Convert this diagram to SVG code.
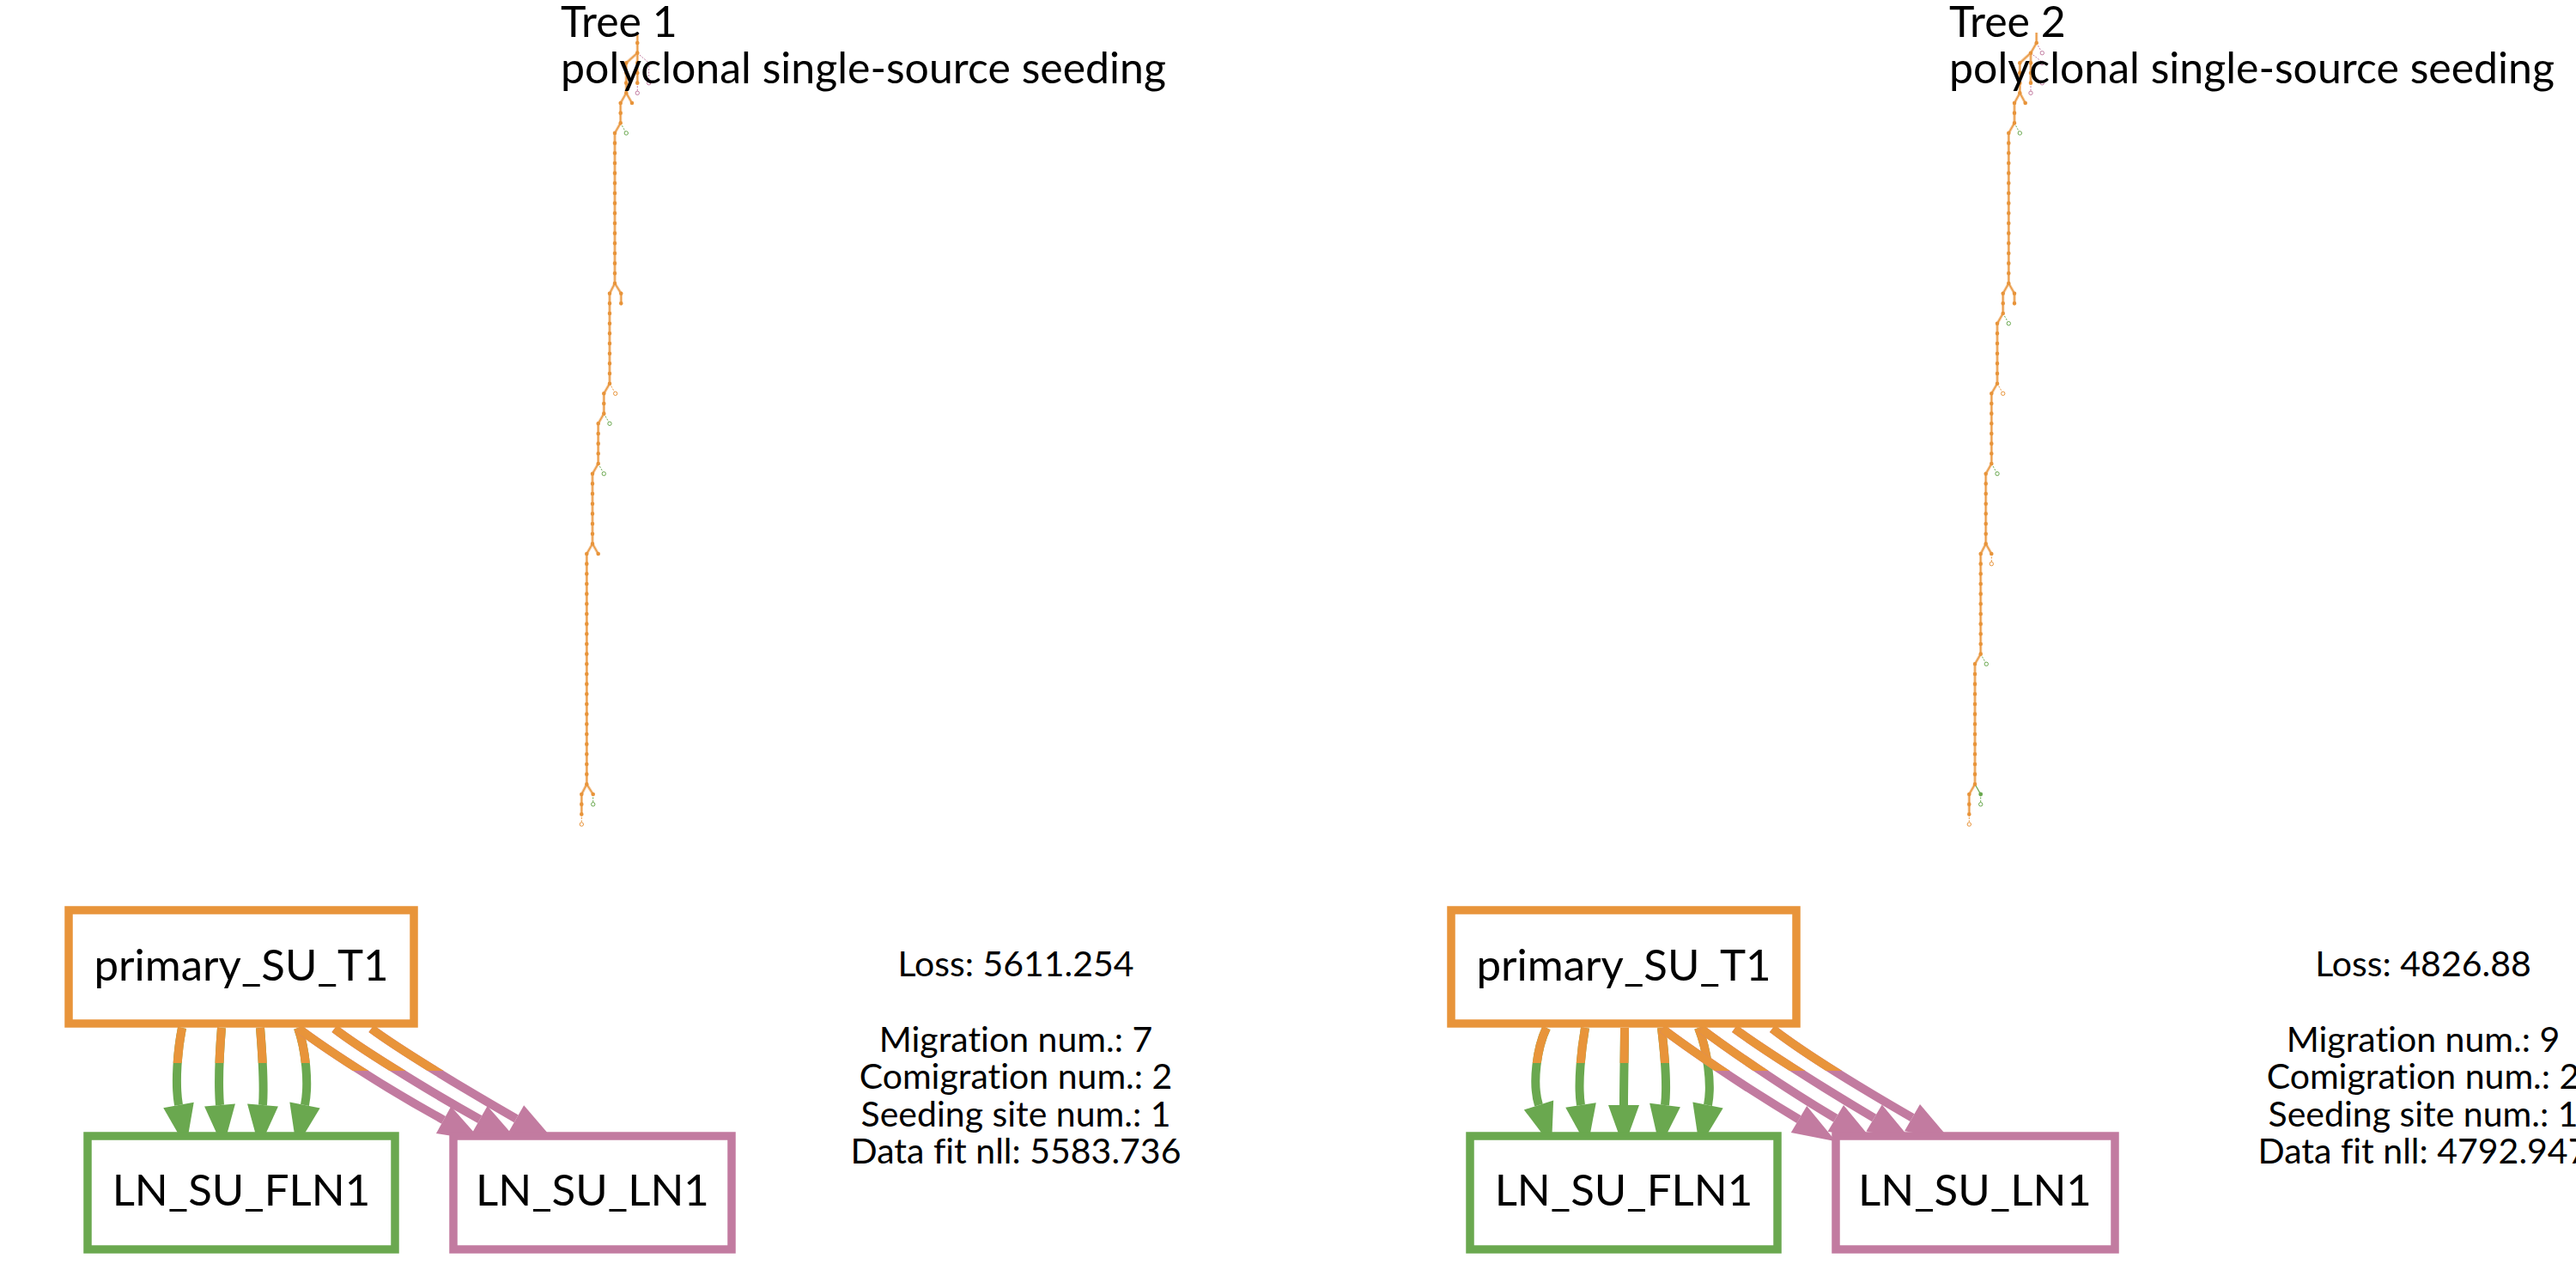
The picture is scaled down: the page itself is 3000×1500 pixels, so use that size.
<svg xmlns="http://www.w3.org/2000/svg" width="3000" height="1500" viewBox="0 0 3000 1500">
<style>
text{font-family:Lato,"Liberation Sans","DejaVu Sans",sans-serif;fill:#000;font-variant-ligatures:none}
.title{font-size:50px}
.lbl{font-size:51px;text-anchor:middle}
.stat{font-size:41px;text-anchor:middle}
.box{fill:#fff;stroke-width:9.5}
.or{stroke:#e8943a}.gr{stroke:#6aa84f}.pk{stroke:#c27ba0}
.e{fill:none;stroke-width:10}
.halo{fill:none;stroke:#f3c391;stroke-width:3.2;stroke-linejoin:round}
.tl{fill:none;stroke:#e8943a;stroke-width:1.1;stroke-linejoin:round}
.dash{fill:none;stroke-width:1;stroke-dasharray:2 1.5}
.dots{fill:none;stroke:#e8943a;stroke-width:4.6;stroke-linecap:round;stroke-dasharray:0 11.6667}
.dot{fill:#e8943a}
.hol{fill:#fff;stroke-width:1}
</style>
<defs>
<marker id="ag" markerUnits="userSpaceOnUse" markerWidth="60" markerHeight="40" refX="0" refY="0" orient="auto" overflow="visible"><path d="M0,-18 L50,0 L0,18 z" fill="#6aa84f"/></marker>
<marker id="ap" markerUnits="userSpaceOnUse" markerWidth="60" markerHeight="40" refX="0" refY="0" orient="auto" overflow="visible"><path d="M0,-18 L50,0 L0,18 z" fill="#c27ba0"/></marker>
<clipPath id="cg"><rect x="0" y="1150" width="3000" height="88"/></clipPath>
<clipPath id="cp"><rect x="0" y="1150" width="3000" height="97"/></clipPath>
</defs>

<g id="tree1">
<path class="halo" d="M742.3,38 V61.7 L729.3,73.3 V108.3 L722.7,120 V143.3 L716,155 V330 L710,341.7 V446.7 L703.3,458.3 V481.7 L696.7,493.3 V540 L690,551.7 V633.3 L683.3,645 V913.3 L677.3,925 V948.3 M742.3,61.7 V96.7 M729.3,108.3 L736,120 M716,330 L723.3,341.7 V353.3 M690,633.3 L696.7,645 M683.3,913.3 L690.7,925"/>
<path class="tl" d="M742.3,38 V61.7 L729.3,73.3 V108.3 L722.7,120 V143.3 L716,155 V330 L710,341.7 V446.7 L703.3,458.3 V481.7 L696.7,493.3 V540 L690,551.7 V633.3 L683.3,645 V913.3 L677.3,925 V948.3 M742.3,61.7 V96.7 M729.3,108.3 L736,120 M716,330 L723.3,341.7 V353.3 M690,633.3 L696.7,645 M683.3,913.3 L690.7,925"/>
<path class="dash pk" d="M742.3,61.7 L755.7,73.3 V94.5 M742.3,96.7 V106"/>
<path class="dash gr" d="M722.7,143.3 L728.2,153 M703.3,481.7 L708.9,491.3 M696.7,540 L702.2,549.7 M690.7,925 V934.5"/>
<path class="dash or" d="M710,446.7 L715.6,456.3 M677.3,948.3 V957.8"/>
<path class="dots" d="M742.3,50 V61.8 M729.3,73.3 V108.4 M742.3,73.3 V96.8 M722.7,120 V143.4 M716,155 V330.1 M710,341.7 V446.8 M723.3,341.7 V353.4 M703.3,458.3 V481.8 M696.7,493.3 V540.1 M690,551.7 V633.4 M683.3,645 V913.4 M677.3,925 V948.4"/>
<circle class="dot" cx="736" cy="120" r="2.3"/>
<circle class="dot" cx="696.7" cy="645" r="2.3"/>
<circle class="dot" cx="690.7" cy="925" r="2.3"/>
<circle class="hol pk" cx="755.7" cy="96.7" r="2.2"/>
<circle class="hol pk" cx="742.3" cy="108.3" r="2.2"/>
<circle class="hol gr" cx="729.3" cy="155" r="2.2"/>
<circle class="hol or" cx="716.7" cy="458.3" r="2.2"/>
<circle class="hol gr" cx="710" cy="493.3" r="2.2"/>
<circle class="hol gr" cx="703.3" cy="551.7" r="2.2"/>
<circle class="hol gr" cx="690.7" cy="936.7" r="2.2"/>
<circle class="hol or" cx="677.3" cy="960" r="2.2"/>
</g>

<g id="tree2">
<path class="halo" d="M2371.7,38 V50 L2365,61.7 L2352.3,73.3 V108.3 L2346,120 V143.3 L2339.3,155 V330 L2332.7,341.7 V365 L2326,376.7 V446.7 L2319.3,458.3 V540 L2312.7,551.7 V633.3 L2306.7,645 V761.7 L2300,773.3 V913.3 L2293.3,925 V948.3 M2365,61.7 V96.7 M2352.3,108.3 L2358.7,120 M2339.3,330 L2346,341.7 V353.3 M2312.7,633.3 L2319.3,645"/>
<path class="tl" d="M2371.7,38 V50 L2365,61.7 L2352.3,73.3 V108.3 L2346,120 V143.3 L2339.3,155 V330 L2332.7,341.7 V365 L2326,376.7 V446.7 L2319.3,458.3 V540 L2312.7,551.7 V633.3 L2306.7,645 V761.7 L2300,773.3 V913.3 L2293.3,925 V948.3 M2365,61.7 V96.7 M2352.3,108.3 L2358.7,120 M2339.3,330 L2346,341.7 V353.3 M2312.7,633.3 L2319.3,645"/>
<path d="M2300,913.3 L2306.7,925" fill="none" stroke="#6aa84f" stroke-width="1.3"/>
<path class="dash pk" d="M2371.7,50 L2377.2,59.6 M2365,61.7 L2377.2,71.5 M2365,85 L2376.8,94.8 M2365,96.7 V106"/>
<path class="dash gr" d="M2346,143.3 L2351.2,153 M2332.7,365 L2338.2,374.6 M2319.3,540 L2324.9,549.7 M2306.7,761.7 L2312.2,771.3 M2306.7,925 V934.5"/>
<path class="dash or" d="M2326,446.7 L2331.6,456.3 M2319.3,645 V654.5 M2293.3,948.3 V957.8"/>
<path class="dots" d="M2352.3,73.3 V108.4 M2365,73.3 V96.8 M2346,120 V143.4 M2339.3,155 V330.1 M2332.7,341.7 V365.1 M2346,341.7 V353.4 M2326,376.7 V446.8 M2319.3,458.3 V540.1 M2312.7,551.7 V633.4 M2306.7,645 V761.8 M2300,773.3 V913.4 M2293.3,925 V948.4"/>
<circle class="dot" cx="2371.7" cy="50" r="2.3"/>
<circle class="dot" cx="2365" cy="61.7" r="2.3"/>
<circle class="dot" cx="2358.7" cy="120" r="2.3"/>
<circle class="dot" cx="2319.3" cy="645" r="2.3"/>
<circle cx="2306.7" cy="925" r="2.4" fill="#6aa84f"/>
<circle class="hol pk" cx="2378.3" cy="61.7" r="2.2"/>
<circle class="hol pk" cx="2378.3" cy="73.3" r="2.2"/>
<circle class="hol pk" cx="2378.3" cy="96.7" r="2.2"/>
<circle class="hol pk" cx="2365" cy="108.3" r="2.2"/>
<circle class="hol gr" cx="2352.3" cy="155" r="2.2"/>
<circle class="hol gr" cx="2339.3" cy="376.7" r="2.2"/>
<circle class="hol or" cx="2332.7" cy="458.3" r="2.2"/>
<circle class="hol gr" cx="2326" cy="551.7" r="2.2"/>
<circle class="hol or" cx="2319.3" cy="656.7" r="2.2"/>
<circle class="hol gr" cx="2313.3" cy="773.3" r="2.2"/>
<circle class="hol gr" cx="2306.7" cy="936.7" r="2.2"/>
<circle class="hol or" cx="2293.3" cy="960" r="2.2"/>
</g>

<g id="titles">
<text class="title" x="653" y="43">Tree 1</text>
<text class="title" x="653" y="97">polyclonal single-source seeding</text>
<text class="title" x="2270" y="43">Tree 2</text>
<text class="title" x="2270" y="97">polyclonal single-source seeding</text>
</g>

<g id="connectors">
<g class="e gr" marker-end="url(#ag)">
<path d="M212,1197 C207,1222 203.5,1261.5 208,1287"/>
<path d="M258,1197 C256,1222 254,1262 256,1287"/>
<path d="M303,1197 C305,1222 308,1262 306,1287"/>
<path d="M347,1197 C356,1222 360,1262 355,1287"/>
<path d="M1801,1197 C1790,1220 1784,1261.5 1792,1287"/>
<path d="M1846,1197 C1842,1220 1837,1262 1841,1287"/>
<path d="M1892,1197 C1892,1220 1891,1260 1891,1287"/>
<path d="M1935,1197 C1938,1222 1942,1262 1939,1287"/>
<path d="M1978,1197 C1988,1222 1994,1262 1989,1287"/>
</g>
<g class="e or" clip-path="url(#cg)">
<path d="M212,1197 C207,1222 203.5,1261.5 208,1287"/>
<path d="M258,1197 C256,1222 254,1262 256,1287"/>
<path d="M303,1197 C305,1222 308,1262 306,1287"/>
<path d="M347,1197 C356,1222 360,1262 355,1287"/>
<path d="M1801,1197 C1790,1220 1784,1261.5 1792,1287"/>
<path d="M1846,1197 C1842,1220 1837,1262 1841,1287"/>
<path d="M1892,1197 C1892,1220 1891,1260 1891,1287"/>
<path d="M1935,1197 C1938,1222 1942,1262 1939,1287"/>
<path d="M1978,1197 C1988,1222 1994,1262 1989,1287"/>
</g>
<g class="e pk" marker-end="url(#ap)">
<path d="M348,1198 C377,1220 445,1265 516.6,1304.3"/>
<path d="M389.5,1198 C418,1220 490,1265 558.8,1303.6"/>
<path d="M432.4,1198 C462,1220 535,1265 601.2,1302.8"/>
<path d="M1936,1198 C1965,1220 2030,1265 2095,1303.6"/>
<path d="M1981,1198 C2010,1220 2075,1265 2137.8,1302.4"/>
<path d="M2020,1198 C2050,1220 2120,1265 2182.6,1302"/>
<path d="M2064,1198 C2095,1222 2160,1263 2227,1301.6"/>
</g>
<g class="e or" clip-path="url(#cp)">
<path d="M348,1198 C377,1220 445,1265 516.6,1304.3"/>
<path d="M389.5,1198 C418,1220 490,1265 558.8,1303.6"/>
<path d="M432.4,1198 C462,1220 535,1265 601.2,1302.8"/>
<path d="M1936,1198 C1965,1220 2030,1265 2095,1303.6"/>
<path d="M1981,1198 C2010,1220 2075,1265 2137.8,1302.4"/>
<path d="M2020,1198 C2050,1220 2120,1265 2182.6,1302"/>
<path d="M2064,1198 C2095,1222 2160,1263 2227,1301.6"/>
</g>
</g>

<g id="t1_primary"><rect class="box or" x="80" y="1060" width="402" height="132"/><text class="lbl" x="281" y="1142">primary_SU_T1</text></g>
<g id="t1_fln1"><rect class="box gr" x="102" y="1323" width="358" height="132"/><text class="lbl" x="281" y="1404">LN_SU_FLN1</text></g>
<g id="t1_ln1"><rect class="box pk" x="528" y="1323" width="324" height="132"/><text class="lbl" x="690" y="1404">LN_SU_LN1</text></g>
<g id="t1_stats">
<text class="stat" x="1183" y="1137">Loss: 5611.254</text>
<text class="stat" x="1183" y="1224.5">Migration num.: 7</text>
<text class="stat" x="1183" y="1268">Comigration num.: 2</text>
<text class="stat" x="1183" y="1311.5">Seeding site num.: 1</text>
<text class="stat" x="1183" y="1355">Data fit nll: 5583.736</text>
</g>

<g id="t2_primary"><rect class="box or" x="1690" y="1060" width="402" height="132"/><text class="lbl" x="1891" y="1142">primary_SU_T1</text></g>
<g id="t2_fln1"><rect class="box gr" x="1712" y="1323" width="358" height="132"/><text class="lbl" x="1891" y="1404">LN_SU_FLN1</text></g>
<g id="t2_ln1"><rect class="box pk" x="2138" y="1323" width="325" height="132"/><text class="lbl" x="2300" y="1404">LN_SU_LN1</text></g>
<g id="t2_stats">
<text class="stat" x="2822" y="1137">Loss: 4826.88</text>
<text class="stat" x="2822" y="1224.5">Migration num.: 9</text>
<text class="stat" x="2822" y="1268">Comigration num.: 2</text>
<text class="stat" x="2822" y="1311.5">Seeding site num.: 1</text>
<text class="stat" x="2822" y="1355">Data fit nll: 4792.947</text>
</g>
</svg>
